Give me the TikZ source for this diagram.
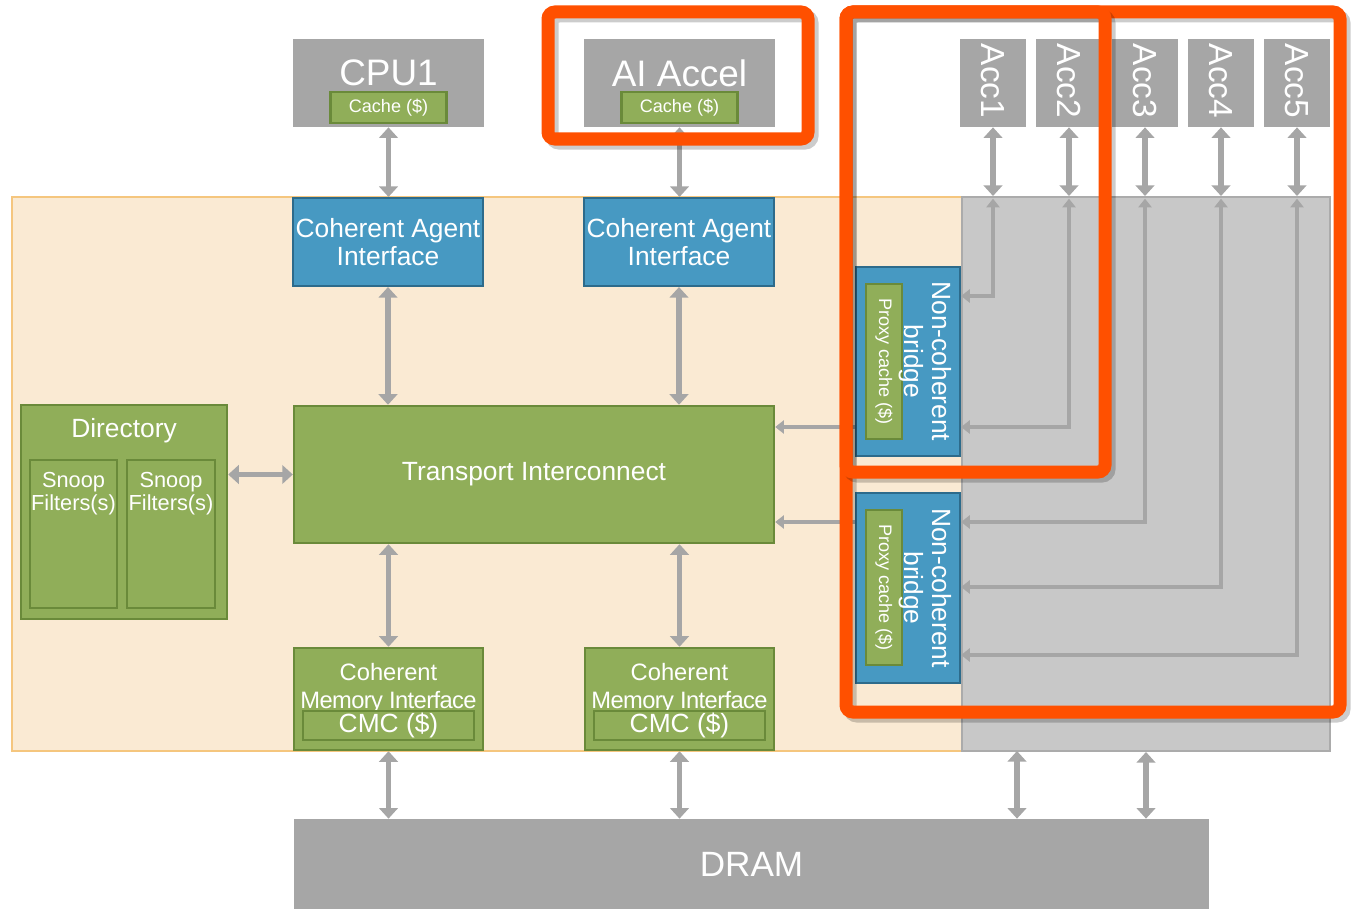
\documentclass[tikz,border=0pt]{standalone}
\usepackage{fontspec}
\setmainfont{Liberation Sans}
\usetikzlibrary{arrows.meta}
\definecolor{boxgray}{HTML}{A6A6A6}
\definecolor{cgreen}{HTML}{90AE59}
\definecolor{cgreenD}{HTML}{6A8A3A}
\definecolor{cblue}{HTML}{4799C2}
\definecolor{cblueD}{HTML}{2D6B8B}
\definecolor{beige}{HTML}{FAEAD3}
\definecolor{beigeD}{HTML}{F5C67E}
\definecolor{regiongray}{HTML}{C8C8C8}
\definecolor{regiongrayD}{HTML}{ABABAB}
\definecolor{hilite}{HTML}{FF5000}
\definecolor{arrgray}{HTML}{A6A6A6}

\begin{document}
\begin{tikzpicture}[x=0.02cm, y=-0.02cm,
  box/.style={rectangle, inner sep=0pt, text=white, align=center},
  graybox/.style={box, fill=boxgray},
  bluebox/.style={box, fill=cblue, draw=cblueD, line width=1.2pt},
  greenbox/.style={box, fill=cgreen, draw=cgreenD, line width=1.4pt},
  bigfont/.style={font=\fontsize{21}{24}\selectfont},
  accfont/.style={font=\fontsize{19}{20}\selectfont},
  midfont/.style={font=\fontsize{15}{15.9}\selectfont},
  cmifont/.style={font=\fontsize{13.5}{15.9}\selectfont},
  snoopfont/.style={font=\fontsize{12.4}{13}\selectfont},
  smallfont/.style={font=\fontsize{10.3}{12}\selectfont},
  arr/.style={draw=arrgray, line width=3.3pt, -{Triangle[width=10.5pt,length=6pt]}},
  both/.style={arr, {Triangle[width=10.5pt,length=6pt]}-{Triangle[width=10.5pt,length=6pt]}},
  link/.style={draw=arrgray, line width=2.5pt, -{Triangle[width=7.5pt,length=5pt]}},
  bothlink/.style={link, {Triangle[width=7.5pt,length=5pt]}-{Triangle[width=7.5pt,length=5pt]}},
  hl/.style={draw=hilite, line width=7.4pt, rounded corners=4pt},
  hlshadow/.style={draw=black, opacity=0.2, line width=7.4pt, rounded corners=4pt}
]
\useasboundingbox (0,0) rectangle (1368,909);

\node[box, fill=beige, draw=beigeD, line width=1.2pt, minimum width=19cm, minimum height=11.08cm] (chip) at (487,474) {};
\node[box, fill=regiongray, draw=regiongrayD, line width=1.2pt, minimum width=7.36cm, minimum height=11.08cm] (ncreg) at (1146,474) {};

\node[graybox, minimum width=3.82cm, minimum height=1.76cm] (cpu) at (388.5,83) {};
\node[box, bigfont] (cpuL) at (388.5,73) {CPU1};
\node[greenbox, smallfont, minimum width=2.32cm, minimum height=0.62cm] (cpuC) at (388.5,107.5) {Cache (\$)};

\node[graybox, minimum width=3.82cm, minimum height=1.76cm] (ai) at (679.5,83) {};
\node[box, bigfont] (aiL) at (679.5,73) {AI Accel};
\node[greenbox, smallfont, minimum width=2.32cm, minimum height=0.62cm] (aiC) at (679.5,107.5) {Cache (\$)};

\foreach \i in {1,...,5} {
  \node[graybox, minimum width=1.32cm, minimum height=1.76cm] (acc\i) at ({917+76*\i},83) {};
  \node[box, accfont, rotate=-90] (accL\i) at ({917+76*\i},81) {Acc\i};
}

\node[bluebox, midfont, minimum width=3.8cm, minimum height=1.76cm] (cai1) at (388,242) {Coherent Agent\\Interface};
\node[bluebox, midfont, minimum width=3.8cm, minimum height=1.76cm] (cai2) at (679,242) {Coherent Agent\\Interface};

\node[greenbox, midfont, minimum width=9.6cm, minimum height=2.74cm] (ti) at (534,474.5) {Transport Interconnect};

\node[greenbox, minimum width=4.12cm, minimum height=4.28cm] (dir) at (124,512) {};
\node[box, midfont] (dirL) at (124,431) {Directory};
\node[greenbox, minimum width=1.74cm, minimum height=2.96cm] (sf1) at (73.5,534) {};
\node[greenbox, minimum width=1.76cm, minimum height=2.96cm] (sf2) at (171,534) {};
\node[box, snoopfont] (sfL1) at (73.5,494) {Snoop\\Filters(s)};
\node[box, snoopfont] (sfL2) at (171,494) {Snoop\\Filters(s)};

\node[greenbox, minimum width=3.78cm, minimum height=2.04cm] (cmi1) at (388.5,699) {};
\node[box, cmifont] (cmiL1) at (388.5,688) {Coherent\\{\addfontfeature{LetterSpace=-2.5}Memory Interface}};
\node[greenbox, midfont, minimum width=3.42cm, minimum height=0.58cm] (cmc1) at (388.5,725.5) {CMC (\$)};
\node[greenbox, minimum width=3.78cm, minimum height=2.04cm] (cmi2) at (679.5,699) {};
\node[box, cmifont] (cmiL2) at (679.5,688) {Coherent\\{\addfontfeature{LetterSpace=-2.5}Memory Interface}};
\node[greenbox, midfont, minimum width=3.42cm, minimum height=0.58cm] (cmc2) at (679.5,725.5) {CMC (\$)};

\node[bluebox, minimum width=2.08cm, minimum height=3.78cm] (ncb1) at (908,361.5) {};
\node[greenbox, minimum width=0.72cm, minimum height=3.1cm] (pc1) at (884,361.5) {};
\node[box, smallfont, rotate=-90] (pcL1) at (884,361.5) {Proxy cache (\$)};
\node[box, midfont, rotate=-90] (ncbL1) at (925,361.5) {Non-coherent\\bridge};
\node[bluebox, minimum width=2.08cm, minimum height=3.8cm] (ncb2) at (908,588) {};
\node[greenbox, minimum width=0.72cm, minimum height=3.1cm] (pc2) at (884,587.5) {};
\node[box, smallfont, rotate=-90] (pcL2) at (884,587.5) {Proxy cache (\$)};
\node[box, midfont, rotate=-90] (ncbL2) at (925,588) {Non-coherent\\bridge};

\node[graybox, font=\fontsize{20}{22}\selectfont, minimum width=18.3cm, minimum height=1.8cm] (dram) at (751.5,864) {DRAM};

\draw[both] (cpu.south) -- (cpu.south |- cai1.north);
\draw[both] (ai.south) -- (ai.south |- cai2.north);
\draw[both] (cai1.south) -- (cai1.south |- ti.north);
\draw[both] (cai2.south) -- (cai2.south |- ti.north);
\draw[both] (dir.east |- ti) -- (ti.west);
\draw[both] (ti.south -| cmi1) -- (cmi1.north);
\draw[both] (ti.south -| cmi2) -- (cmi2.north);
\draw[both] (cmi1.south) -- (cmi1.south |- dram.north);
\draw[both] (cmi2.south) -- (cmi2.south |- dram.north);
\coordinate (m1) at (1017,751);
\draw[both] (m1) -- (m1 |- dram.north);
\draw[both] (ncreg.south) -- (ncreg.south |- dram.north);

\foreach \i in {1,...,5}
  \draw[both] (acc\i.south) -- (acc\i.south |- ncreg.north);
\foreach \i/\y/\br in {1/296/ncb1, 2/427/ncb1, 3/522/ncb2, 4/587/ncb2, 5/655/ncb2} {
  \coordinate (bend\i) at ({917+76*\i},\y);
  \draw[bothlink] ([yshift=-1.5pt]acc\i.south |- ncreg.north) -- (bend\i) -- (\br.east |- bend\i);
}
\draw[link] (ncb1.west |- bend2) -- (ti.east |- bend2);
\draw[link] (ncb2.west |- bend3) -- (ti.east |- bend3);

\draw[hlshadow] (850,16) rectangle (1344,716);
\draw[hl] (846,12) rectangle (1340,712);
\draw[hlshadow] (850,16) rectangle (1109,476);
\draw[hl] (846,12) rectangle (1105,472);
\draw[hlshadow] (552,16) rectangle (812,143);
\draw[hl] (548,12) rectangle (808,139);

\end{tikzpicture}
\end{document}
